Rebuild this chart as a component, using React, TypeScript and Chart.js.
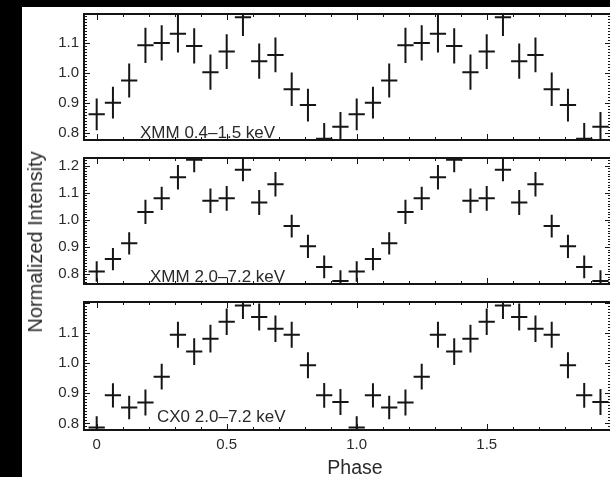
import React, { useEffect, useRef } from 'react';
import { Chart, registerables } from 'chart.js';

Chart.register(...registerables);

// Phase bin centres (two cycles, 16 bins per cycle)
const PHASE = [
  0, 0.0625, 0.125, 0.1875, 0.25, 0.3125, 0.375, 0.4375,
  0.5, 0.5625, 0.625, 0.6875, 0.75, 0.8125, 0.875, 0.9375,
  1.0, 1.0625, 1.125, 1.1875, 1.25, 1.3125, 1.375, 1.4375,
  1.5, 1.5625, 1.625, 1.6875, 1.75, 1.8125, 1.875, 1.9375,
];

// XMM 0.4–1.5 keV
const XMM_SOFT = [
  0.861, 0.900, 0.974, 1.092, 1.100, 1.131, 1.090, 1.002,
  1.071, 1.186, 1.039, 1.060, 0.945, 0.892, 0.779, 0.819,
  0.861, 0.900, 0.974, 1.092, 1.100, 1.131, 1.090, 1.002,
  1.071, 1.186, 1.039, 1.060, 0.945, 0.892, 0.779, 0.819,
];
const XMM_SOFT_ERR = [
  0.053, 0.053, 0.057, 0.059, 0.059, 0.063, 0.059, 0.059,
  0.058, 0.063, 0.059, 0.058, 0.056, 0.055, 0.053, 0.050,
  0.053, 0.053, 0.057, 0.059, 0.059, 0.063, 0.059, 0.059,
  0.058, 0.063, 0.059, 0.058, 0.056, 0.055, 0.053, 0.050,
];

// XMM 2.0–7.2 keV
const XMM_HARD = [
  0.809, 0.855, 0.913, 1.029, 1.079, 1.157, 1.222, 1.070,
  1.079, 1.185, 1.064, 1.131, 0.977, 0.902, 0.826, 0.774,
  0.809, 0.855, 0.913, 1.029, 1.079, 1.157, 1.222, 1.070,
  1.079, 1.185, 1.064, 1.131, 0.977, 0.902, 0.826, 0.774,
];
const XMM_HARD_ERR = [
  0.038, 0.041, 0.041, 0.045, 0.043, 0.045, 0.047, 0.045,
  0.046, 0.043, 0.046, 0.045, 0.042, 0.043, 0.042, 0.040,
  0.038, 0.041, 0.041, 0.045, 0.043, 0.045, 0.047, 0.045,
  0.046, 0.043, 0.046, 0.045, 0.042, 0.043, 0.042, 0.040,
];

// CXO 2.0–7.2 keV
const CXO_HARD = [
  0.786, 0.893, 0.853, 0.869, 0.955, 1.094, 1.038, 1.081,
  1.137, 1.191, 1.153, 1.114, 1.094, 0.993, 0.893, 0.871,
  0.786, 0.893, 0.853, 0.869, 0.955, 1.094, 1.038, 1.081,
  1.137, 1.191, 1.153, 1.114, 1.094, 0.993, 0.893, 0.871,
];
const CXO_HARD_ERR = [
  0.038, 0.040, 0.039, 0.043, 0.043, 0.043, 0.044, 0.046,
  0.044, 0.045, 0.045, 0.044, 0.043, 0.043, 0.041, 0.043,
  0.038, 0.040, 0.039, 0.043, 0.043, 0.043, 0.044, 0.046,
  0.044, 0.045, 0.045, 0.044, 0.043, 0.043, 0.041, 0.043,
];

const BIN_HALF_WIDTH = 1 / 32;

const PANEL_LABELS = ['XMM 0.4\u20131.5 keV', 'XMM 2.0\u20137.2 keV', 'CX0 2.0\u20137.2 keV'];
const Y_TICKS_1 = [0.8, 0.9, 1.0, 1.1];
const Y_TICKS_2 = [0.8, 0.9, 1.0, 1.1, 1.2];
const Y_TICKS_3 = [0.8, 0.9, 1.0, 1.1];
const X_TICKS = [0, 0.5, 1.0, 1.5];
const X_TICK_LABELS = ['0', '0.5', '1.0', '1.5'];
const X_TITLE = 'Phase';
const Y_TITLE = 'Normalized Intensity';

const X_MIN = -0.0488;
const X_MAX = 1.978;

const FONT = '"Liberation Sans", Arial, Helvetica, sans-serif';
const INK = '#151515';
const TEXT = '#2a2a2a';

const framePlugin = {
  id: 'frameTicks',
  afterDatasetsDraw(chart: any) {
    const { ctx, chartArea: a, scales } = chart;
    const x = scales.x;
    const y = scales.y;
    ctx.save();
    ctx.strokeStyle = INK;
    ctx.lineWidth = 1;
    ctx.beginPath();
    for (let i = 0; i <= 20; i++) {
      const v = i / 10;
      if (v < x.min || v > x.max) continue;
      const px = Math.round(x.getPixelForValue(v)) + 0.5;
      const len = i % 5 === 0 ? 6 : 3;
      ctx.moveTo(px, a.top);
      ctx.lineTo(px, a.top + len);
      ctx.moveTo(px, a.bottom);
      ctx.lineTo(px, a.bottom - len);
    }
    const k0 = Math.ceil(y.min * 100);
    const k1 = Math.floor(y.max * 100);
    for (let k = k0; k <= k1; k++) {
      const py = Math.round(y.getPixelForValue(k / 100)) + 0.5;
      const len = k % 10 === 0 ? 6 : 3;
      ctx.moveTo(a.left, py);
      ctx.lineTo(a.left + len, py);
      ctx.moveTo(a.right, py);
      ctx.lineTo(a.right - len, py);
    }
    ctx.stroke();
    ctx.lineWidth = 2;
    ctx.strokeRect(a.left, a.top, a.right - a.left, a.bottom - a.top);
    ctx.restore();
  },
};

function buildCrosses(values: number[], errors: number[]) {
  const horiz: any[] = [];
  const vert: any[] = [];
  PHASE.forEach((p, i) => {
    horiz.push({ x: p - BIN_HALF_WIDTH, y: values[i] });
    horiz.push({ x: p + BIN_HALF_WIDTH, y: values[i] });
    horiz.push({ x: p, y: null });
    vert.push({ x: p, y: values[i] - errors[i] });
    vert.push({ x: p, y: values[i] + errors[i] });
    vert.push({ x: p, y: null });
  });
  return { horiz, vert };
}

type PanelProps = {
  values: number[];
  errors: number[];
  yMin: number;
  yMax: number;
  yTicks: number[];
  top: number;
  height: number;
  bottomAxis: boolean;
};

const CANVAS_LEFT = 22;
const CANVAS_WIDTH = 589;
const Y_AXIS_WIDTH = 62;
const PAD = 10;
const X_AXIS_HEIGHT = 40;

function Panel({ values, errors, yMin, yMax, yTicks, top, height, bottomAxis }: PanelProps) {
  const ref = useRef<HTMLCanvasElement | null>(null);
  const canvasHeight = PAD + height + (bottomAxis ? X_AXIS_HEIGHT : PAD);

  useEffect(() => {
    if (!ref.current) return;
    const { horiz, vert } = buildCrosses(values, errors);
    const lineDs = (data: any[]) => ({
      data,
      showLine: true,
      spanGaps: false,
      borderColor: INK,
      borderWidth: 2,
      pointRadius: 0,
      pointHoverRadius: 0,
      fill: false,
      clip: 1,
    });
    const chart = new Chart(ref.current, {
      type: 'scatter',
      data: { datasets: [lineDs(horiz), lineDs(vert)] as any },
      plugins: [framePlugin],
      options: {
        responsive: false,
        maintainAspectRatio: false,
        animation: false,
        events: [],
        layout: { padding: { top: PAD, bottom: bottomAxis ? 0 : PAD, left: 0, right: 0 } },
        plugins: { legend: { display: false }, tooltip: { enabled: false } },
        scales: {
          x: {
            type: 'linear',
            min: X_MIN,
            max: X_MAX,
            display: bottomAxis,
            grid: { display: false, drawTicks: false },
            border: { display: false },
            afterBuildTicks: (s: any) => {
              s.ticks = X_TICKS.map((v) => ({ value: v }));
            },
            afterFit: (s: any) => {
              if (bottomAxis) s.height = X_AXIS_HEIGHT;
            },
            ticks: {
              autoSkip: false,
              maxRotation: 0,
              padding: 6,
              color: TEXT,
              font: { family: FONT, size: 15 },
              callback: (v: any) => {
                const i = X_TICKS.indexOf(Number(v));
                return i >= 0 ? X_TICK_LABELS[i] : '';
              },
            },
          },
          y: {
            type: 'linear',
            min: yMin,
            max: yMax,
            grid: { display: false, drawTicks: false },
            border: { display: false },
            afterBuildTicks: (s: any) => {
              s.ticks = yTicks.map((v) => ({ value: v }));
            },
            afterFit: (s: any) => {
              s.width = Y_AXIS_WIDTH;
            },
            ticks: {
              autoSkip: false,
              padding: 5,
              color: TEXT,
              font: { family: FONT, size: 15 },
              callback: (v: any) => Number(v).toFixed(1),
            },
          },
        },
      } as any,
    });
    return () => chart.destroy();
  }, []);

  return (
    <canvas
      ref={ref}
      width={CANVAS_WIDTH}
      height={canvasHeight}
      style={{
        position: 'absolute',
        left: CANVAS_LEFT,
        top: top - PAD,
        width: CANVAS_WIDTH,
        height: canvasHeight,
      }}
    />
  );
}

const labelStyle = (left: number, cy: number): React.CSSProperties => ({
  position: 'absolute',
  left,
  top: cy,
  transform: 'translateY(-50%)',
  font: `17px ${FONT}`,
  lineHeight: 1,
  color: TEXT,
  whiteSpace: 'nowrap',
});

export default function App() {
  return (
    <div
      style={{
        position: 'fixed',
        left: 0,
        top: 0,
        width: 610,
        height: 477,
        background: '#000',
        overflow: 'hidden',
      }}
    >
      <div
        style={{
          position: 'absolute',
          left: 22,
          top: 7,
          width: 600,
          height: 480,
          background: '#fff',
        }}
      />
      <Panel values={XMM_SOFT} errors={XMM_SOFT_ERR} yMin={0.775} yMax={1.197} yTicks={Y_TICKS_1} top={10} height={134} bottomAxis={false} />
      <Panel values={XMM_HARD} errors={XMM_HARD_ERR} yMin={0.763} yMax={1.228} yTicks={Y_TICKS_2} top={154} height={134} bottomAxis={false} />
      <Panel values={CXO_HARD} errors={CXO_HARD_ERR} yMin={0.778} yMax={1.2026} yTicks={Y_TICKS_3} top={298} height={132} bottomAxis={true} />
      <div style={labelStyle(140, 132)}>{PANEL_LABELS[0]}</div>
      <div style={labelStyle(150, 276)}>{PANEL_LABELS[1]}</div>
      <div style={labelStyle(157, 416)}>{PANEL_LABELS[2]}</div>
      <div
        style={{
          position: 'absolute',
          left: 355,
          top: 468,
          transform: 'translate(-50%, -50%)',
          font: `19.5px ${FONT}`,
          lineHeight: 1,
          color: TEXT,
          whiteSpace: 'nowrap',
        }}
      >
        {X_TITLE}
      </div>
      <div
        style={{
          position: 'absolute',
          left: 35,
          top: 242,
          transform: 'translate(-50%, -50%) rotate(-90deg)',
          font: `20px ${FONT}`,
          lineHeight: 1,
          color: TEXT,
          whiteSpace: 'nowrap',
        }}
      >
        {Y_TITLE}
      </div>
    </div>
  );
}
